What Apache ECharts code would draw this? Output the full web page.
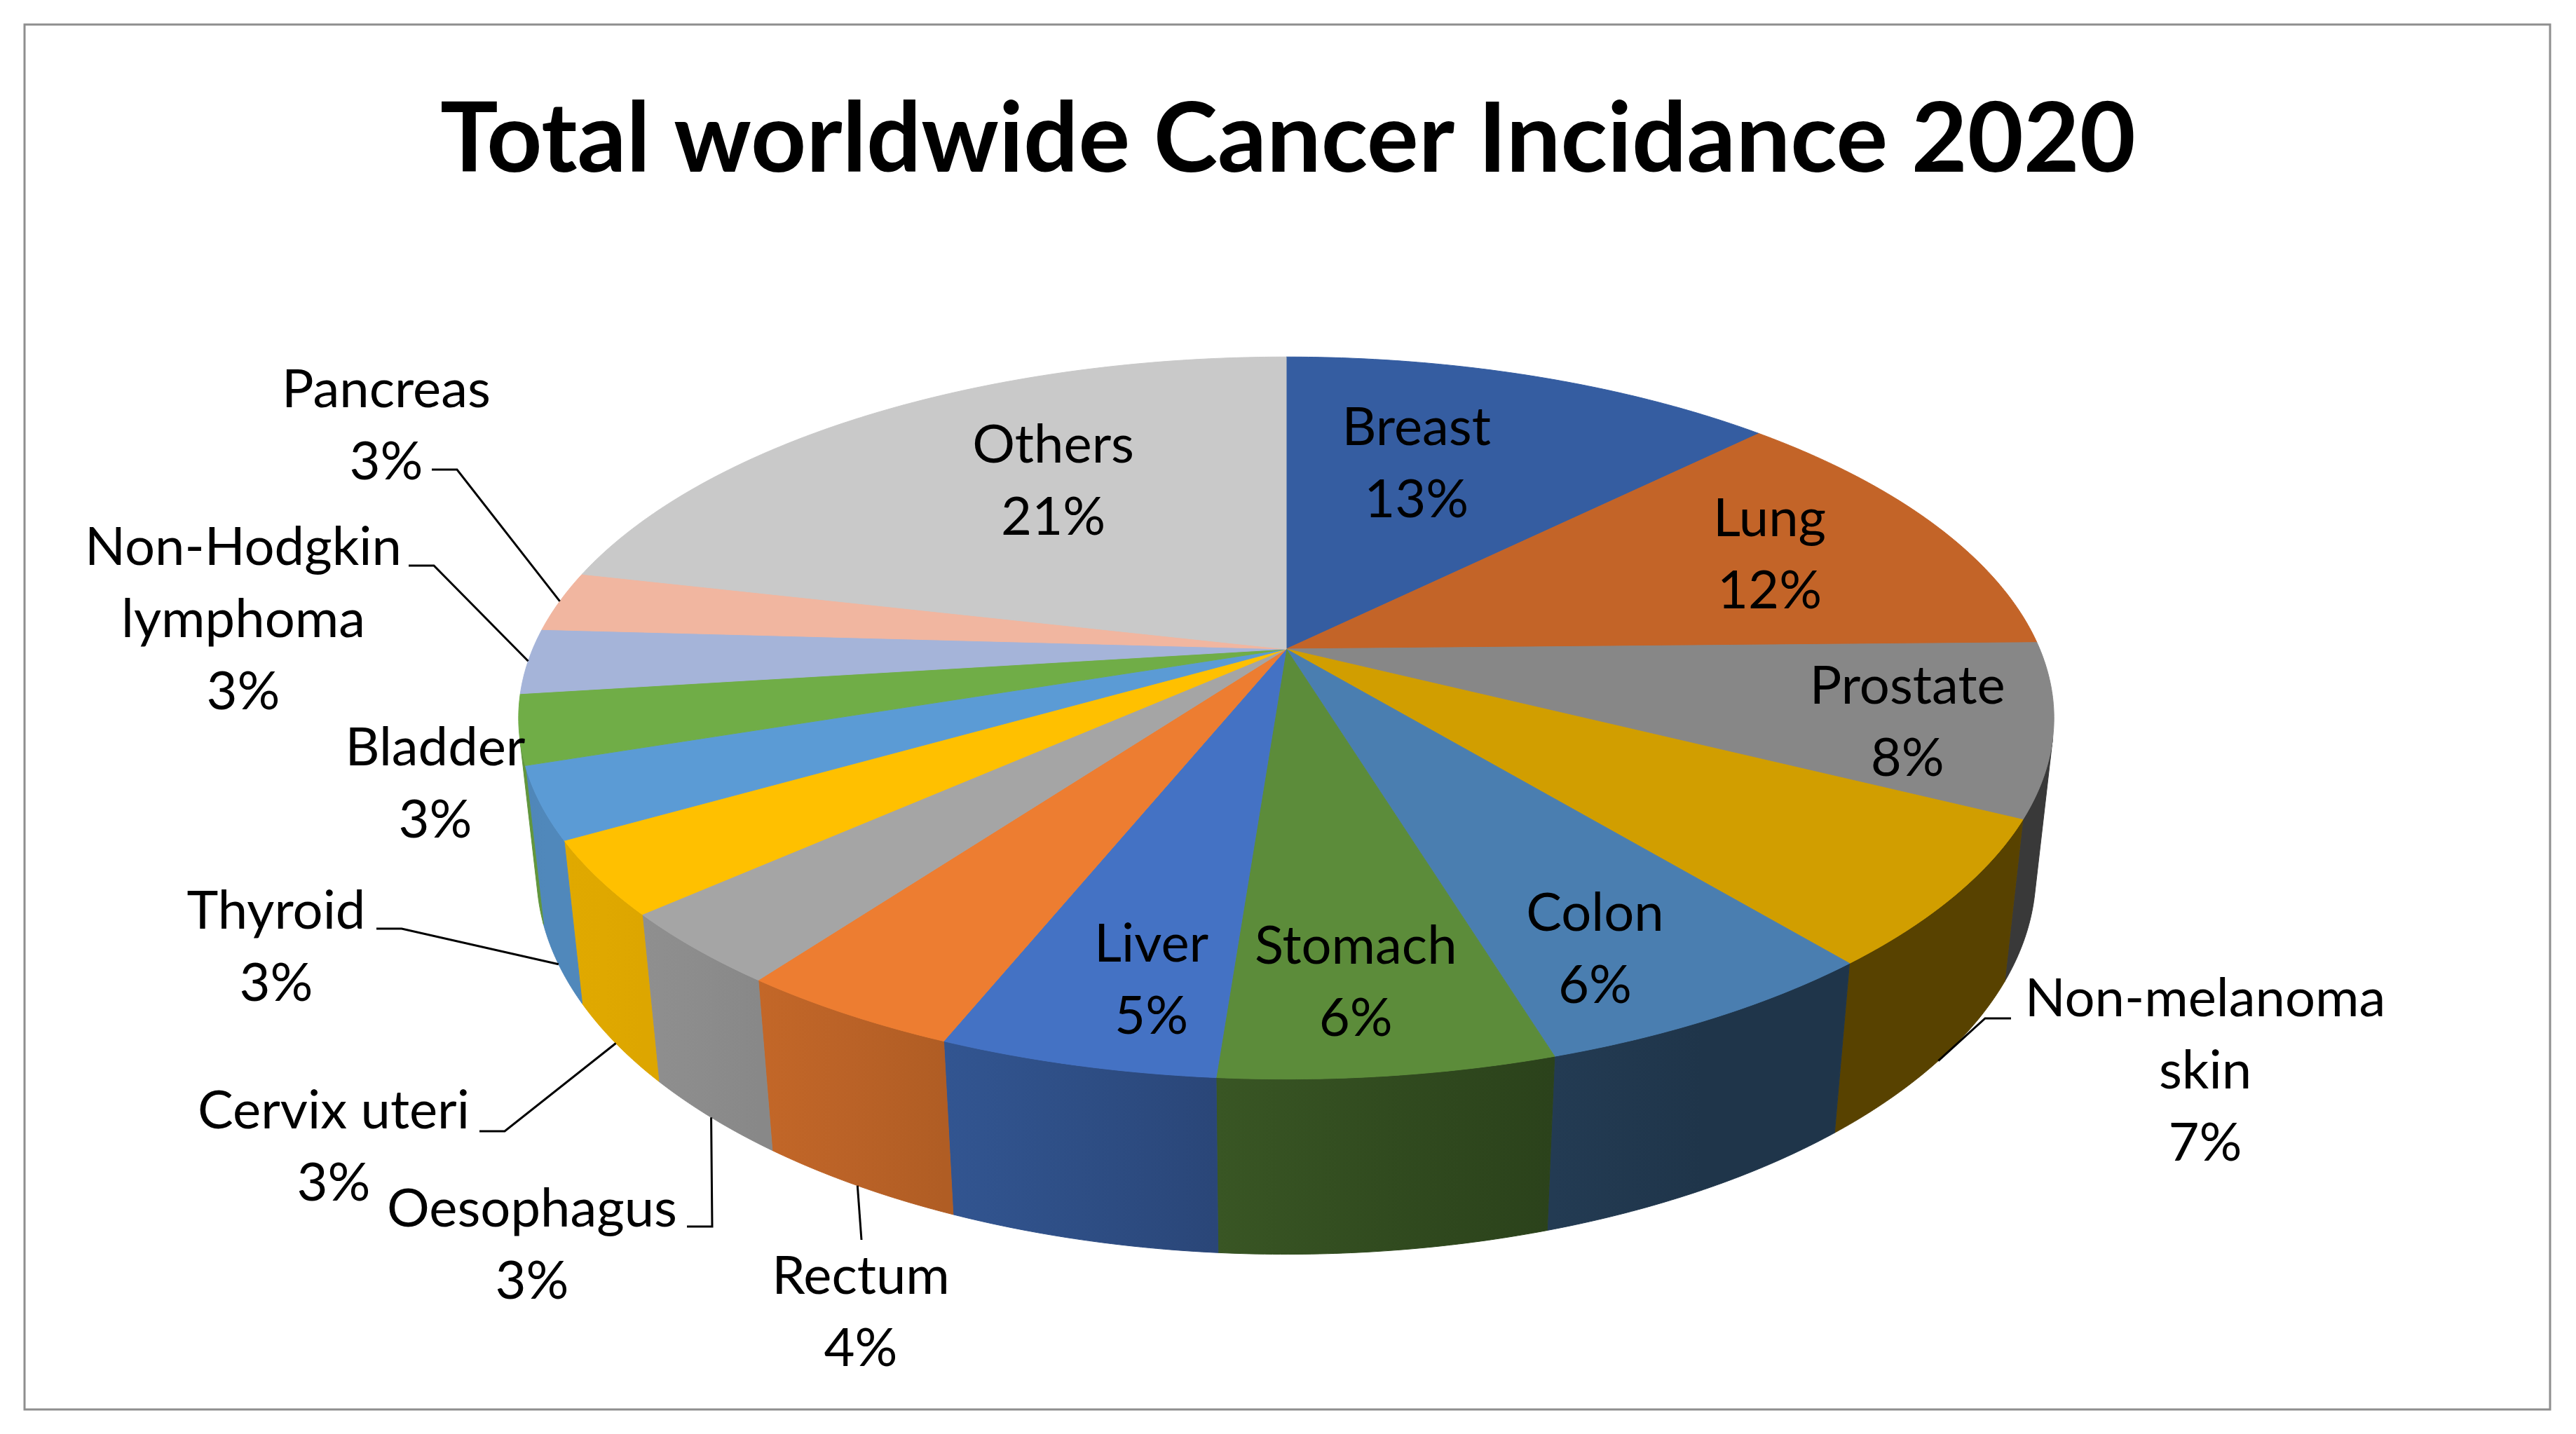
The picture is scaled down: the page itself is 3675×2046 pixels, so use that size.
<!DOCTYPE html>
<html>
<head>
<meta charset="utf-8">
<script src="https://cdn.jsdelivr.net/npm/echarts@6/dist/echarts.min.js"></script>
<style>
html,body{margin:0;padding:0;background:#ffffff;}
#chart{width:3675px;height:2046px;}
</style>
</head>
<body>
<div id="chart"></div>
<script>
// ---- data (share of new cancer cases, %) ----
const categories = ['Breast', 'Lung', 'Prostate', 'Non-melanoma skin', 'Colon', 'Stomach', 'Liver',
  'Rectum', 'Oesophagus', 'Cervix uteri', 'Thyroid', 'Bladder', 'Non-Hodgkin lymphoma', 'Pancreas', 'Others'];
const shares = [12.6, 12.1, 7.7, 6.6, 6.3, 5.9, 4.9, 4.0, 3.3, 3.3, 3.2, 3.1, 2.9, 2.7, 21.4];
const titleText = 'Total worldwide Cancer Incidance 2020';

// ---- styles / layout ----
const colors = ['#355DA1', '#C36428', '#878787', '#D19E00', '#4A7EB0', '#5C8C3A', '#4472C4',
  '#ED7D31', '#A5A5A5', '#FFC000', '#5B9BD5', '#70AD47', '#A5B4D9', '#F1B6A0', '#C9C9C9'];
const REF_W = 3675, REF_H = 2046;
const view = { cx: 1835 / REF_W, cy: 926 / REF_H, halfWidth: 1075 / REF_W, camDist: 4.642, tiltDeg: 27.5, thickness: 0.233 };
// inside labels: [radius fraction, angular shift in degrees from the slice middle]
const insideLabelPlace = {
  'Breast': [0.623, -4.7], 'Lung': [0.734, 0], 'Prostate': [0.818, 1.6], 'Colon': [0.821, 2.9],
  'Stomach': [0.814, 0.8], 'Liver': [0.82, -2.5], 'Others': [0.63, 5.8]
};
const outsideLabels = {
  'Non-melanoma skin': { at: [3146, 1528], hook: [2869, 1453], side: 'left' },
  'Rectum': { at: [1228, 1873], hook: [1229, 1769], side: 'top' },
  'Oesophagus': { at: [759, 1777], hook: [980, 1750], side: 'right' },
  'Cervix uteri': { at: [476, 1637], hook: [684, 1614], side: 'right' },
  'Thyroid': { at: [394, 1352], hook: [537, 1325], side: 'right' },
  'Bladder': { at: [621, 1119] },
  'Non-Hodgkin lymphoma': { at: [347, 884], hook: [583, 807], side: 'right' },
  'Pancreas': { at: [551, 608], hook: [616, 670], side: 'right' }
};
const labelFont = { size: 76, lineHeight: 103, family: 'Lato, "Open Sans", sans-serif' };

// ---- geometry helpers ----
const total = shares.reduce((a, b) => a + b, 0);
const cumStart = [];
shares.reduce((acc, v, i) => { cumStart[i] = acc; return acc + v; }, 0);
const alpha = view.tiltDeg * Math.PI / 180;
const sa = Math.sin(alpha), ca = Math.cos(alpha);
const TH0 = Math.asin(1 / (view.camDist * ca)); // side wall faces the viewer for theta in (TH0, PI - TH0)

function sliceAngles(i, v) {
  const a = -Math.PI / 2 + 2 * Math.PI * cumStart[i] / total;
  return [a, a + 2 * Math.PI * v / total];
}
function projector(api) {
  const W = api.getWidth(), H = api.getHeight();
  const cx = W * view.cx, cy = H * view.cy, f = W * view.halfWidth * view.camDist, d = view.camDist;
  return function (r, th, z) {
    const X = r * Math.cos(th), Y = r * Math.sin(th);
    const depth = d - Y * ca - z * sa;
    return [cx + f * X / depth, cy + f * (Y * sa - z * ca) / depth];
  };
}
function shade(hex, th) {
  const n = parseInt(hex.slice(1), 16);
  const light = Math.pow(Math.max(0, Math.cos(th - 150 * Math.PI / 180)), 1.5);
  const k = 0.42 + 0.46 * light;
  const r = Math.round(((n >> 16) & 255) * k), g = Math.round(((n >> 8) & 255) * k), b = Math.round((n & 255) * k);
  return 'rgb(' + r + ',' + g + ',' + b + ')';
}
function labelText(name, v) {
  const shown = name.indexOf('Non-') === 0 ? name.replace(' ', '\n') : name;
  return shown + '\n' + Math.round(v / total * 100) + '%';
}

const seriesData = categories.map((c, i) => ({ name: c, value: shares[i] }));

function renderWall(params, api) {
  const i = params.dataIndex, v = api.value(0);
  const P = projector(api);
  const [a, b] = sliceAngles(i, v);
  const lo = Math.max(a, TH0), hi = Math.min(b, Math.PI - TH0);
  if (hi <= lo) return null;
  const n = Math.max(2, Math.ceil((hi - lo) / (Math.PI / 360)));
  const top = [], bot = [];
  for (let k = 0; k <= n; k++) {
    const t = lo + (hi - lo) * k / n;
    top.push(P(1, t, 0));
    bot.push(P(1, t, -view.thickness));
  }
  const pts = top.concat(bot.slice().reverse());
  const grad = new echarts.graphic.LinearGradient(top[0][0], 0, top[n][0] + 0.01, 0, [
    { offset: 0, color: shade(colors[i], lo) },
    { offset: 0.5, color: shade(colors[i], (lo + hi) / 2) },
    { offset: 1, color: shade(colors[i], hi) }
  ], true);
  return { type: 'polygon', shape: { points: pts }, style: { fill: grad, stroke: grad, lineWidth: 1 } };
}

function renderTop(params, api) {
  const i = params.dataIndex, v = api.value(0);
  const P = projector(api);
  const [a, b] = sliceAngles(i, v);
  const n = Math.max(2, Math.ceil((b - a) / (Math.PI / 360)));
  const pts = [P(0, 0, 0)];
  for (let k = 0; k <= n; k++) pts.push(P(1, a + (b - a) * k / n, 0));
  return { type: 'polygon', shape: { points: pts }, style: { fill: colors[i], stroke: colors[i], lineWidth: 1 } };
}

function renderLabel(params, api) {
  const i = params.dataIndex, v = api.value(0), name = categories[i];
  const P = projector(api);
  const s = api.getWidth() / REF_W, sy = api.getHeight() / REF_H;
  const [a, b] = sliceAngles(i, v);
  const mid = (a + b) / 2;
  const children = [];
  let x, y;
  const out = outsideLabels[name];
  if (out) {
    x = out.at[0] * s; y = out.at[1] * sy;
    if (out.hook) {
      const visible = Math.sin(mid) > Math.sin(TH0);
      const target = P(1.0, mid, visible ? -view.thickness : 0);
      const hook = [out.hook[0] * s, out.hook[1] * sy];
      const pts = [hook];
      if (out.side === 'right') pts.push([hook[0] + 36 * s, hook[1]]);
      else if (out.side === 'left') pts.push([hook[0] - 37 * s, hook[1]]);
      pts.push(target);
      children.push({ type: 'polyline', shape: { points: pts }, style: { stroke: '#000000', lineWidth: 3, fill: null } });
    }
  } else {
    const place = insideLabelPlace[name] || [0.7, 0];
    const p = P(place[0], mid + place[1] * Math.PI / 180, 0);
    x = p[0]; y = p[1];
  }
  children.push({
    type: 'text',
    style: {
      text: labelText(name, v), x: x, y: y,
      fill: '#000000', fontSize: labelFont.size * s, fontFamily: labelFont.family,
      lineHeight: labelFont.lineHeight * s,
      align: 'center', verticalAlign: 'middle', textAlign: 'center', textVerticalAlign: 'middle'
    }
  });
  return { type: 'group', children: children };
}

const chart = echarts.init(document.getElementById('chart'), null, { renderer: 'canvas' });
chart.setOption({
  backgroundColor: '#ffffff',
  animation: false,
  title: {
    text: titleText, left: 'center', top: 126,
    textStyle: { fontSize: 138, fontWeight: 'bold', fontFamily: 'Lato, "Open Sans", sans-serif', color: '#000000' }
  },
  graphic: [{
    type: 'rect', z: -10, silent: true,
    shape: { x: 35, y: 35, width: 3603, height: 1976 },
    style: { fill: 'transparent', stroke: '#8E8E8E', lineWidth: 3 }
  }],
  series: [
    { type: 'custom', name: 'sides', coordinateSystem: 'none', silent: true, z: 2, data: seriesData, renderItem: renderWall },
    { type: 'custom', name: 'tops', coordinateSystem: 'none', silent: true, z: 3, data: seriesData, renderItem: renderTop },
    { type: 'custom', name: 'labels', coordinateSystem: 'none', silent: true, z: 4, data: seriesData, renderItem: renderLabel }
  ]
});
</script>
</body>
</html>
